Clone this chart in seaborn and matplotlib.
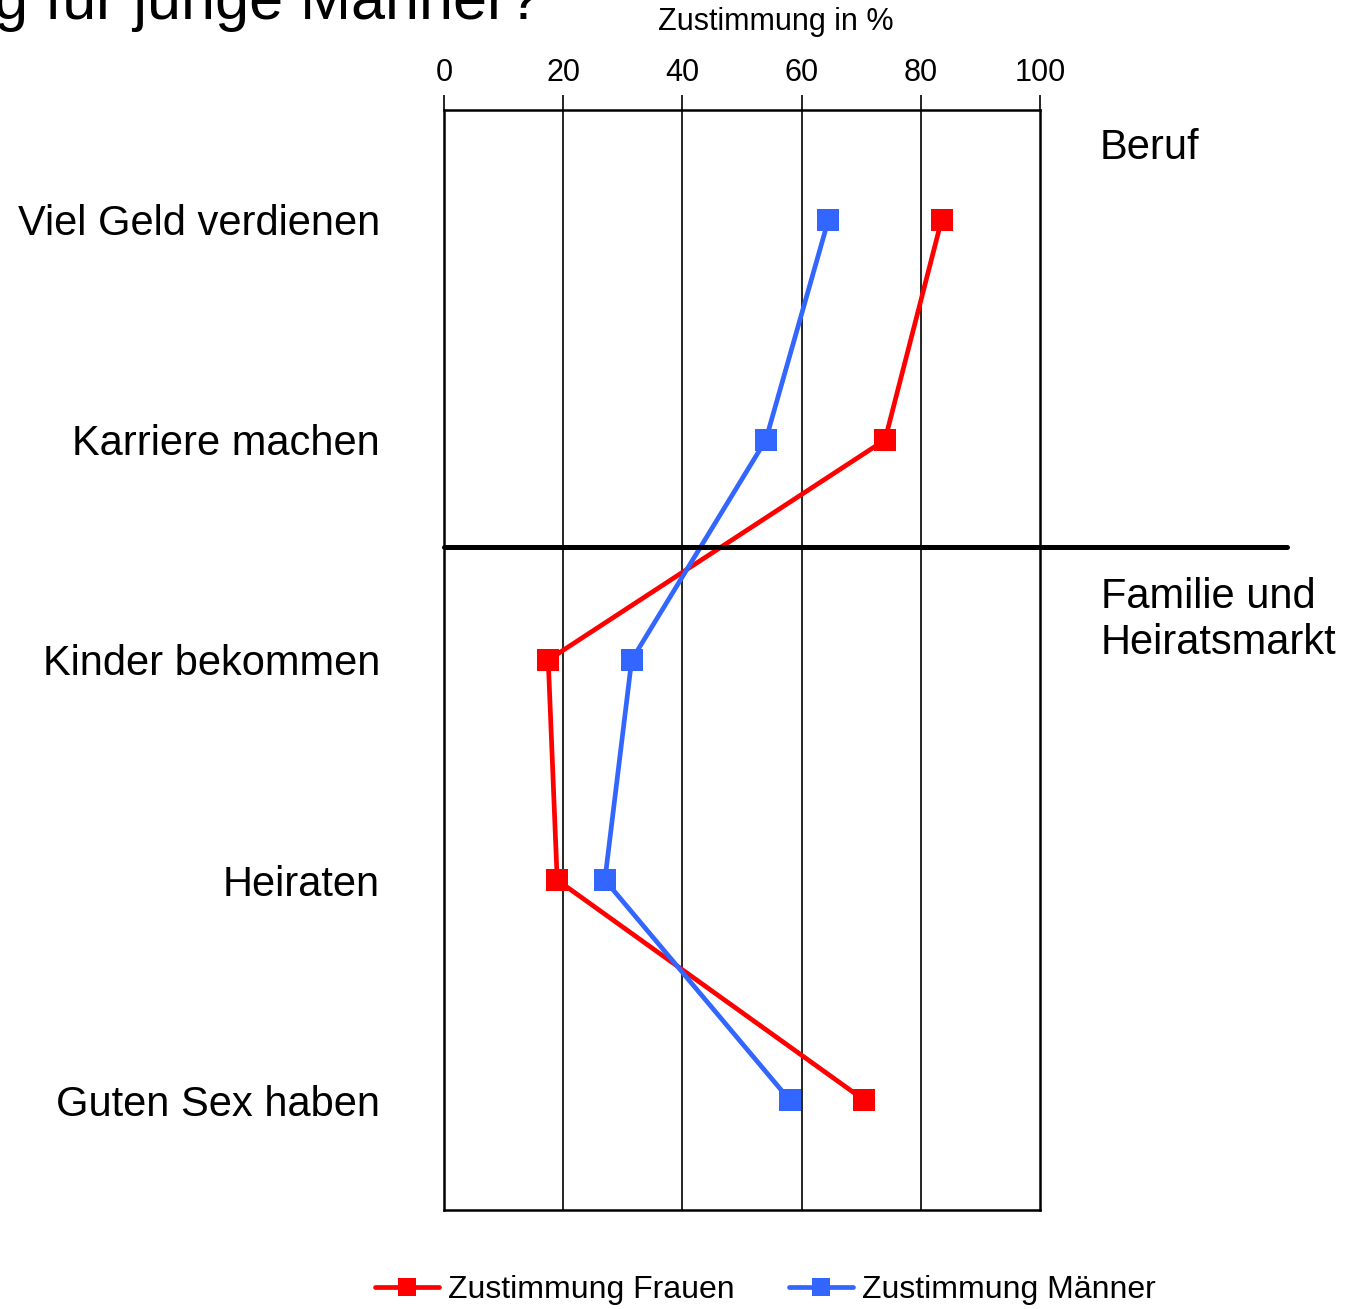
import pandas as pd
import matplotlib.pyplot as plt
import seaborn as sns

# --- DATA ---
categories = ["Viel Geld verdienen", "Karriere machen", "Kinder bekommen", "Heiraten", "Guten Sex haben"]
frauen = [83.5, 74, 17.5, 19, 70.5]
maenner = [64.5, 54, 31.5, 27, 58]
series_names = ["Zustimmung Frauen", "Zustimmung Männer"]
x_ticks = [0, 20, 40, 60, 80, 100]

sns.set_theme(style="white", rc={"text.color": "black", "xtick.color": "black",
                                 "ytick.color": "black", "axes.labelcolor": "black"})
plt.rcParams['font.family'] = ['Liberation Sans', 'DejaVu Sans']

rows = []
for name, vals in zip(series_names, [frauen, maenner]):
    for i, v in enumerate(vals):
        rows.append({"Serie": name, "Wert": v, "pos": i})
df = pd.DataFrame(rows)

fig = plt.figure(figsize=(13.56, 13.09), dpi=100)
ax = fig.add_axes([0.3274, 0.0756, 0.4395, 0.8404])

palette = {"Zustimmung Frauen": "#FF0000", "Zustimmung Männer": "#3366FF"}
sns.lineplot(data=df, x="Wert", y="pos", hue="Serie", palette=palette, orient="y",
             marker="s", markersize=16, markeredgewidth=0, linewidth=3.4,
             ax=ax, legend=True)

ax.set_xlim(0, 100)
ax.set_ylim(4.5, -0.5)
ax.xaxis.tick_top()
ax.set_xticks(x_ticks)
ax.set_xticklabels([str(t) for t in x_ticks], fontsize=22)
ax.tick_params(axis="x", direction="out", length=11, width=1.2, color="black", pad=5)
ax.set_xlabel("")
ax.set_ylabel("")
for t in x_ticks[1:-1]:
    ax.axvline(t, color="black", lw=1.2, zorder=0)

# category labels and minor ticks between categories
ax.set_yticks(range(len(categories)))
ax.set_yticklabels(categories, fontsize=30)
ax.tick_params(axis="y", length=0, pad=46)
ax.set_yticks([0.5, 1.5, 2.5, 3.5, 4.5], minor=True)
ax.tick_params(axis="y", which="minor", direction="in", length=9, width=1.5, color="black")

for side in ["left", "bottom", "top", "right"]:
    ax.spines[side].set_color("black")
    ax.spines[side].set_linewidth(1.8)

# separator between the two groups
ax.plot([0, 141.5], [1.485, 1.485], color="black", lw=3.6, clip_on=False, zorder=5)

ax.text(110, -0.327, "Beruf", fontsize=30, va="center", ha="left")
fig.text(0.812, 0.5264, "Familie und\nHeiratsmarkt", fontsize=30, va="center", ha="left",
         linespacing=1.2)

fig.text(0.572, 0.983, "Zustimmung in %", fontsize=22, ha="center", va="center")
fig.text(0.399, 0.9855, "g für junge Männer?", fontsize=44, ha="right", va="baseline")

handles, labels = ax.get_legend_handles_labels()
ax.legend(handles, labels, loc="center", bbox_to_anchor=(0.539, -0.0727), ncol=2,
          frameon=False, fontsize=23, handlelength=2.0, handletextpad=0.28,
          columnspacing=1.7, borderaxespad=0, markerscale=0.85)

fig.savefig("out.png", dpi=100)
